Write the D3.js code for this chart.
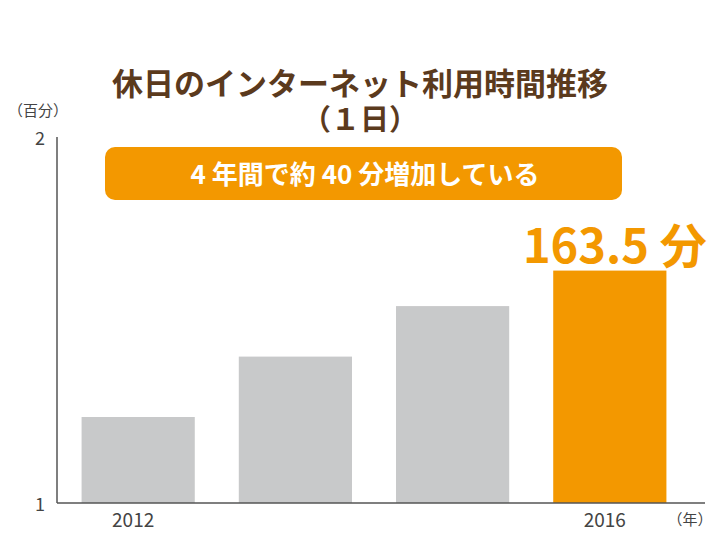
<!DOCTYPE html>
<html><head><meta charset="utf-8">
<script src="https://cdn.jsdelivr.net/npm/d3@7/dist/d3.min.js"></script>
<style>body{margin:0;background:#fff}text{font-family:"Noto Sans CJK JP","Noto Sans",sans-serif}</style>
</head><body><svg id="c" width="726" height="545"></svg>
<script>
const years = ['2012', '2013', '2014', '2016']
const minutes = [123.5, 140, 153.8, 163.5]
const tickLabels = ['2012', '', '', '2016']

const svg = d3.select('#c')
const brown = '#5b3a1d', orange = '#f39800', grey = '#c8c9ca'

// y in hundreds of minutes, 1..2
const y = d3.scaleLinear().domain([1, 2]).range([503, 137])
const x = d3.scaleBand().domain(years).range([58, 690]).paddingInner(0.28).paddingOuter(0.15)

svg.append('g').selectAll('rect').data(minutes).enter().append('rect')
  .attr('x', (d, i) => x(years[i]))
  .attr('width', x.bandwidth())
  .attr('y', d => y(d / 100))
  .attr('height', d => y(1) - y(d / 100))
  .attr('fill', (d, i) => i == minutes.length - 1 ? orange : grey)

// axes
svg.append('line').attr('x1', 57).attr('x2', 57).attr('y1', y(2)).attr('y2', y(1)).attr('stroke', '#555').attr('stroke-width', 1.5)
svg.append('line').attr('x1', 57).attr('x2', 705).attr('y1', y(1)).attr('y2', y(1)).attr('stroke', '#555').attr('stroke-width', 1.5)
svg.selectAll('.yt').data([1, 2]).enter().append('text')
  .attr('x', 40).attr('y', d => y(d) + 8).attr('text-anchor', 'middle')
  .attr('font-size', 18).attr('fill', '#444').text(d => d)
svg.append('text').attr('x', 38).attr('y', 116).attr('text-anchor', 'middle')
  .attr('font-size', 15).attr('fill', '#444').text('（百分）')
svg.selectAll('.xt').data(tickLabels).enter().append('text')
  .attr('x', (d, i) => x(years[i]) + x.bandwidth() / 2 - 5).attr('y', 527)
  .attr('text-anchor', 'middle').attr('font-size', 19).attr('fill', '#444').text(d => d)
svg.append('text').attr('x', 690).attr('y', 525).attr('text-anchor', 'middle')
  .attr('font-size', 15).attr('fill', '#444').text('（年）')

// title
svg.append('text').attr('x', 360).attr('y', 95).attr('text-anchor', 'middle')
  .attr('font-size', 31).attr('font-weight', 'bold').attr('fill', brown).text('休日のインターネット利用時間推移')
svg.append('text').attr('x', 360).attr('y', 130).attr('text-anchor', 'middle')
  .attr('font-size', 29).attr('font-weight', 'bold').attr('fill', brown).text('（１日）')

// banner
svg.append('rect').attr('x', 105).attr('y', 147).attr('width', 517).attr('height', 53).attr('rx', 10).attr('fill', orange)
svg.append('text').attr('x', 365).attr('y', 184).attr('text-anchor', 'middle')
  .attr('font-size', 26).attr('font-weight', 'bold').attr('fill', '#fff').text('4 年間で約 40 分増加している')

// value label
const last = minutes.length - 1
svg.append('text').attr('x', x(years[last]) + x.bandwidth() / 2 + 5).attr('y', y(minutes[last] / 100) - 8)
  .attr('text-anchor', 'middle').attr('font-size', 47).attr('font-weight', 'bold').attr('fill', orange)
  .text(minutes[last] + ' 分')
</script></body></html>
